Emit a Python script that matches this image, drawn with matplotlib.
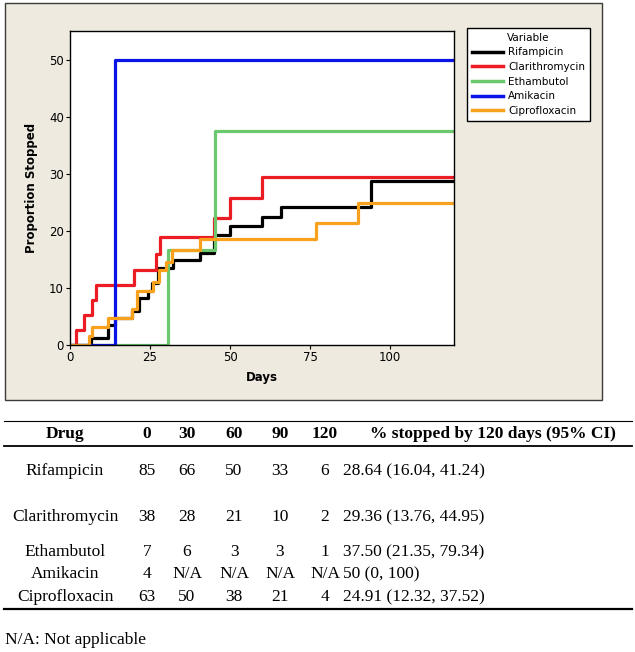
import matplotlib
matplotlib.use("Agg")
import matplotlib.pyplot as plt
from matplotlib.patches import Rectangle
from matplotlib.lines import Line2D

W, H = 635, 652

# ---- step curve data (day, % stopped) ----
rif_t = [0, 6.5, 12, 14, 19.5, 21.5, 24.5, 25.5, 27.5, 32.3, 40.6, 45, 50, 60, 66, 94]
rif_y = [0, 1.18, 3.53, 4.71, 5.88, 8.2, 9.4, 10.8, 13.4, 14.9, 16.2, 19.2, 20.8, 22.5, 24.2, 28.64]

cla_t = [0, 2, 4.5, 7, 8, 20, 27, 28, 45, 50, 60]
cla_y = [0, 2.63, 5.26, 7.89, 10.5, 13.2, 16.0, 18.9, 22.2, 25.8, 29.36]

eth_t = [0, 30.5, 45.3]
eth_y = [0, 16.67, 37.5]

ami_t = [0, 14]
ami_y = [0, 50]

cip_t = [0, 6, 7, 12, 19.3, 21, 25.8, 27.8, 30, 32, 40.6, 76.9, 89.9]
cip_y = [0, 1.59, 3.17, 4.76, 6.35, 9.5, 11.1, 13.1, 14.6, 16.6, 18.5, 21.3, 24.91]

series = [
    ("Rifampicin", rif_t, rif_y, "black"),
    ("Clarithromycin", cla_t, cla_y, "#EC1C24"),
    ("Ethambutol", eth_t, eth_y, "#6CC86C"),
    ("Amikacin", ami_t, ami_y, "#0A14E6"),
    ("Ciprofloxacin", cip_t, cip_y, "#F7A11C"),
]

# ---- table data ----
drugs = ["Rifampicin", "Clarithromycin", "Ethambutol", "Amikacin", "Ciprofloxacin"]
col_days = ["0", "30", "60", "90", "120"]
n_0 = ["85", "38", "7", "4", "63"]
n_30 = ["66", "28", "6", "N/A", "50"]
n_60 = ["50", "21", "3", "N/A", "38"]
n_90 = ["33", "10", "3", "N/A", "21"]
n_120 = ["6", "2", "1", "N/A", "4"]
pct_ci = ["28.64 (16.04, 41.24)", "29.36 (13.76, 44.95)", "37.50 (21.35, 79.34)",
          "50 (0, 100)", "24.91 (12.32, 37.52)"]


def fx(px):
    return px / W


def fy(py):
    return 1 - py / H


fig = plt.figure(figsize=(W / 100, H / 100), dpi=100)
fig.patch.set_facecolor("white")

# beige chart panel
fig.add_artist(Rectangle((fx(5), fy(400)), fx(602) - fx(5), fy(3) - fy(400),
                         transform=fig.transFigure, facecolor="#EEEAE0",
                         edgecolor="#3A3A3A", lw=1.0, zorder=0))

ax = fig.add_axes([fx(70), fy(345), fx(454) - fx(70), fy(31) - fy(345)])
ax.set_facecolor("white")
for name, t, y, c in series:
    ax.step(t + [120], y + [y[-1]], where="post", color=c, lw=2.3, label=name)

ax.set_xlim(0, 120)
ax.set_ylim(0, 55)
ax.set_xticks([0, 25, 50, 75, 100])
ax.set_yticks([0, 10, 20, 30, 40, 50])
ax.tick_params(labelsize=8.5, length=3, width=0.8, pad=1.5)
for s in ax.spines.values():
    s.set_linewidth(1.0)

fig.text(fx(31), fy(188), "Proportion Stopped", rotation=90, ha="center", va="center",
         fontsize=8.5, fontweight="bold")
fig.text(fx(262), fy(377), "Days", ha="center", va="center", fontsize=8.5, fontweight="bold")

leg = ax.legend(loc="upper left", bbox_to_anchor=(fx(467), fy(28)),
                bbox_transform=fig.transFigure, title="Variable", fontsize=7.5,
                title_fontsize=7.5, frameon=True, fancybox=False, borderaxespad=0,
                handlelength=3.0, handletextpad=0.5, labelspacing=0.45,
                borderpad=0.45, framealpha=1)
leg.get_frame().set_edgecolor("black")
leg.get_frame().set_linewidth(1.0)
for line in leg.get_lines():
    line.set_linewidth(2.5)

# ---- table below ----
serif = "Liberation Serif"
fs = 12.5
fig.add_artist(Line2D([fx(4), fx(632)], [fy(421), fy(421)], color="black", lw=0.8))
fig.add_artist(Line2D([fx(4), fx(632)], [fy(446), fy(446)], color="black", lw=1.3))
fig.add_artist(Line2D([fx(4), fx(632)], [fy(609), fy(609)], color="black", lw=1.6))

col_x = [147, 187, 234, 280, 325]
hy = 434
fig.text(fx(65), fy(hy), "Drug", ha="center", va="center", family=serif,
         fontsize=fs, fontweight="bold")
for x, d in zip(col_x, col_days):
    fig.text(fx(x), fy(hy), d, ha="center", va="center", family=serif,
             fontsize=fs, fontweight="bold")
fig.text(fx(370), fy(hy), "% stopped by 120 days (95% CI)", ha="left", va="center",
         family=serif, fontsize=fs, fontweight="bold")

row_y = [471, 517, 552, 574, 597]
cols = [n_0, n_30, n_60, n_90, n_120]
for i, ry in enumerate(row_y):
    fig.text(fx(65), fy(ry), drugs[i], ha="center", va="center", family=serif, fontsize=fs)
    for x, col in zip(col_x, cols):
        fig.text(fx(x), fy(ry), col[i], ha="center", va="center", family=serif, fontsize=fs)
    fig.text(fx(343), fy(ry), pct_ci[i], ha="left", va="center", family=serif, fontsize=fs)

fig.text(fx(5), fy(640), "N/A: Not applicable", ha="left", va="center", family=serif,
         fontsize=fs)

fig.savefig("out.png", dpi=100)
